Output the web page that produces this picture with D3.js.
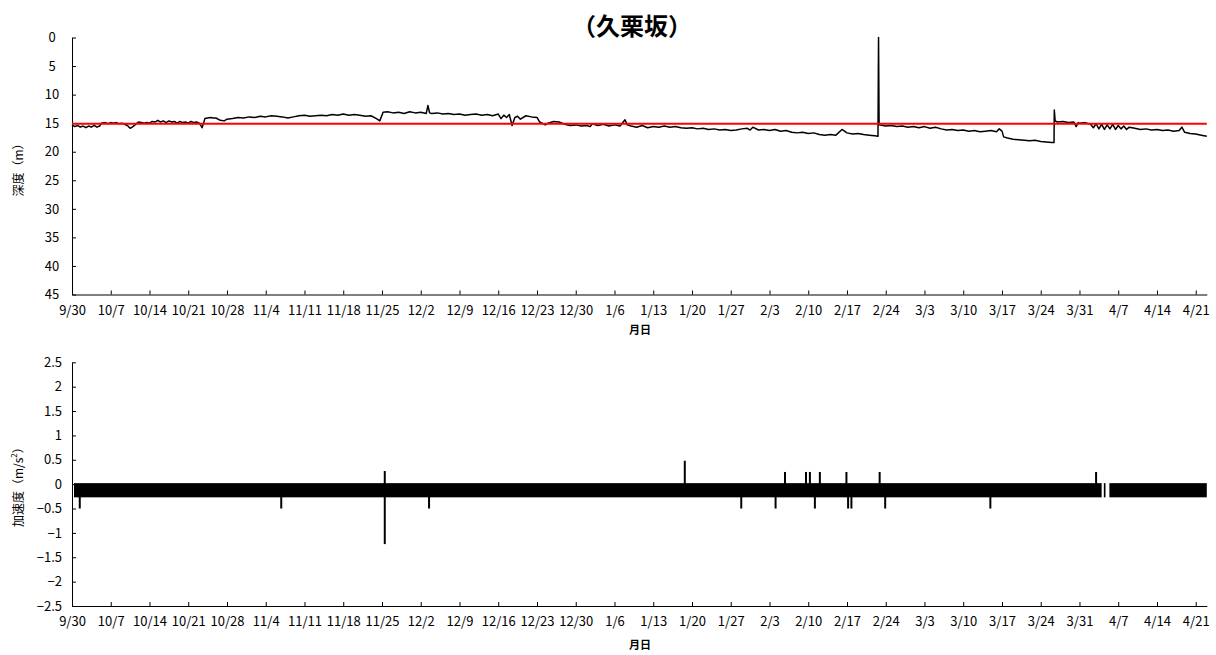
<!DOCTYPE html>
<html>
<head>
<meta charset="utf-8">
<script src="https://cdn.jsdelivr.net/npm/d3@7"></script>
<style>
  body { margin: 0; background: #fff; }
  svg text { font-family: "Noto Sans CJK JP", "Noto Sans", sans-serif; fill: #000; }
</style>
</head>
<body>
<div id="chart"></div>
<script>
'use strict';

// x positions are days since 9/30
var tickLabels = ['9/30', '10/7', '10/14', '10/21', '10/28', '11/4', '11/11', '11/18', '11/25', '12/2',
  '12/9', '12/16', '12/23', '12/30', '1/6', '1/13', '1/20', '1/27', '2/3', '2/10', '2/17', '2/24',
  '3/3', '3/10', '3/17', '3/24', '3/31', '4/7', '4/14', '4/21'];
var dayMax = 205;

var depthTicks = [0, 5, 10, 15, 20, 25, 30, 35, 40, 45];
var accelTicks = [2.5, 2, 1.5, 1, 0.5, 0, -0.5, -1, -1.5, -2, -2.5];
var referenceDepth = 15.1;

// [day, depth m]
var depth = [
  [0, 15.3], [0.5, 15.6], [1, 15.4], [1.5, 15.7], [2, 15.5], [2.5, 15.8], [3, 15.5], [3.5, 15.7],
  [4, 15.4], [4.5, 15.7], [5, 15.5], [5.3, 15.0], [6, 14.9], [6.5, 15.1], [7, 14.9], [7.5, 15.0],
  [8, 14.9], [8.5, 15.1], [9, 15.0], [9.5, 15.2], [10, 15.4], [10.5, 15.9], [11, 15.6], [11.5, 15.2],
  [12, 14.8], [12.5, 14.9], [13, 15.0], [13.5, 14.9], [14, 15.0], [14.5, 14.7], [15, 14.8], [15.5, 14.5],
  [16, 14.8], [16.5, 14.6], [17, 14.9], [17.5, 14.6], [18, 14.8], [18.5, 14.7], [19, 15.0], [19.5, 14.7],
  [20, 14.9], [20.5, 14.8], [21, 15.0], [21.5, 14.7], [22, 14.9], [22.5, 14.8], [23, 15.0], [23.5, 15.8],
  [23.8, 14.9], [24, 14.2], [25, 14.0], [25.5, 14.1], [26, 14.1], [26.8, 14.5], [27.5, 14.6], [28, 14.3],
  [29, 14.2], [30, 14.0], [31, 14.1], [32, 13.9], [33, 14.0], [34, 13.8], [35, 13.9], [36, 13.7],
  [37, 13.8], [38, 13.9], [39, 14.1], [40, 13.9], [41, 13.7], [42, 13.6], [43, 13.8], [44, 13.7],
  [45, 13.6], [46, 13.7], [47, 13.5], [48, 13.6], [49, 13.4], [50, 13.6], [51, 13.5], [52, 13.6],
  [53, 13.8], [54, 13.7], [55, 14.2], [55.6, 14.6], [56.2, 13.1], [57, 13.0], [58, 13.2], [59, 13.1],
  [60, 13.3], [61, 13.0], [62, 13.2], [63, 13.1], [64, 13.3], [64.3, 11.9], [64.6, 13.2], [65, 13.3],
  [66, 13.2], [67, 13.4], [68, 13.3], [69, 13.5], [70, 13.4], [71, 13.6], [72, 13.5], [73, 13.4],
  [74, 13.6], [75, 13.5], [76, 13.7], [77, 13.4], [77.5, 14.2], [78, 13.6], [78.5, 14.0], [79, 13.5],
  [79.5, 15.4], [80, 14.0], [80.5, 13.8], [81, 14.3], [82, 13.7], [83, 13.9], [84, 14.0], [84.5, 14.8],
  [85.5, 15.3], [86, 15.0], [87, 14.7], [88, 14.8], [89, 15.2], [90, 15.4], [91, 15.3], [92, 15.5],
  [93, 15.4], [93.6, 15.6], [94, 15.1], [95, 15.4], [96, 15.2], [97, 15.5], [98, 15.3], [99, 15.5],
  [99.9, 14.4], [100.3, 15.3], [101, 15.5], [102, 15.7], [103, 15.4], [104, 15.8], [105, 15.6], [106, 15.7],
  [107, 15.5], [108, 15.7], [109, 15.6], [110, 15.8], [111, 15.9], [112, 15.8], [113, 16.0], [114, 15.9],
  [115, 16.1], [116, 16.0], [117, 16.2], [118, 16.1], [119, 16.3], [120, 16.2], [121, 16.0], [122, 15.9],
  [122.5, 16.2], [123, 15.7], [124, 16.2], [125, 16.1], [126, 16.3], [127, 16.1], [128, 16.4], [129, 16.3],
  [130, 16.6], [131, 16.7], [132, 16.6], [133, 16.8], [134, 16.7], [135, 17.0], [136, 17.1], [137, 17.0],
  [138, 17.1], [139.1, 16.1], [140, 16.7], [141, 16.9], [142, 16.8], [143, 17.0], [144, 17.1], [145, 17.2],
  [145.6, 17.3], [145.7, 0.0], [145.8, 15.3], [146.5, 15.4], [147, 15.5], [148, 15.4], [149, 15.6], [150, 15.5],
  [151, 15.7], [152, 15.6], [153, 15.8], [154, 15.6], [155, 15.9], [156, 15.7], [157, 16.0], [158, 16.2],
  [159, 16.1], [160, 16.3], [161, 16.2], [162, 16.4], [163, 16.3], [164, 16.5], [165, 16.4], [166, 16.3],
  [167, 16.5], [167.5, 16.0], [168, 16.4], [168.3, 17.4], [169, 17.6], [170, 17.8], [171, 17.9], [172, 18.0],
  [173, 18.1], [174, 18.0], [175, 18.2], [176, 18.3], [177, 18.4], [177.4, 18.4], [177.45, 12.7], [177.6, 14.6],
  [178, 14.8], [179, 14.7], [180, 14.9], [181, 14.8], [181.4, 15.6], [181.8, 14.9], [182, 15.0], [183, 14.9],
  [184, 15.2], [184.5, 15.8], [185, 15.1], [185.5, 16.0], [186, 15.2], [186.5, 16.1], [187, 15.3], [187.5, 16.0],
  [188, 15.2], [188.5, 16.1], [189, 15.4], [189.5, 16.0], [190, 15.5], [190.5, 16.1], [191, 15.7], [192, 15.9],
  [193, 16.1], [194, 16.0], [195, 16.2], [196, 16.1], [197, 16.3], [198, 16.2], [199, 16.4], [200, 16.3],
  [200.5, 15.7], [201, 16.6], [202, 16.8], [203, 16.9], [204, 17.1], [205, 17.3]
];

// acceleration: dense oscillation between hi and lo, as [startDay, endDay, hi, lo]
var accelBands = [
  [0.36, 186.0, 0, -0.25],
  [186.4, 186.7, 0, -0.25],
  [187.4, 205, 0, -0.25]
];
// isolated peaks [day, m/s2]
var accelPeaks = [
  [1.4, -0.5], [37.8, -0.5], [56.5, 0.27], [56.5, -1.23], [64.5, -0.5], [110.7, 0.48],
  [120.9, -0.5], [127.1, -0.5], [128.8, 0.25], [132.6, 0.25], [133.3, 0.25], [134.2, -0.5],
  [135.1, 0.25], [139.9, 0.25], [140.2, -0.5], [140.8, -0.5], [145.9, 0.25], [146.9, -0.5],
  [165.9, -0.5], [185.0, 0.25]
];

var W = 1216, H = 655;
var left = 72, right = 1206.8;
var top1 = 37.5, bottom1 = 294.5;
var top2 = 362.3, bottom2 = 606;

var svg = d3.select('#chart').append('svg')
  .attr('width', W)
  .attr('height', H);

var x = d3.scaleLinear().domain([0, dayMax]).range([left, right]);
var y1 = d3.scaleLinear().domain([0, 45]).range([top1, bottom1]);
var y2 = d3.scaleLinear().domain([-2.5, 2.5]).range([bottom2, top2]);

var weekDays = tickLabels.map(function(d, i) { return i * 7; });

function drawXAxis(yPos) {
  var g = svg.append('g')
    .attr('transform', 'translate(0,' + yPos + ')')
    .call(d3.axisBottom(x)
      .tickValues(weekDays)
      .tickSizeInner(-4)
      .tickSizeOuter(0)
      .tickPadding(11)
      .tickFormat(function(d, i) { return tickLabels[i]; }));
  g.select('.domain').attr('stroke', '#000');
  g.selectAll('.tick line').attr('stroke', '#000');
  g.selectAll('text').attr('font-size', 13).style('font-family', '"Noto Sans CJK JP", sans-serif');
  return g;
}

function drawYAxis(scale, ticks, anchor, pad) {
  var g = svg.append('g')
    .attr('transform', 'translate(' + left + ',0)')
    .call(d3.axisLeft(scale)
      .tickValues(ticks)
      .tickSizeInner(-4)
      .tickSizeOuter(0)
      .tickPadding(pad)
      .tickFormat(d3.format('')));
  g.select('.domain').attr('stroke', '#000');
  g.selectAll('.tick line').attr('stroke', '#000');
  g.selectAll('text')
    .attr('font-size', 13)
    .attr('text-anchor', anchor)
    .style('font-family', '"Noto Sans CJK JP", sans-serif');
  return g;
}

// title
svg.append('text')
  .attr('x', 632)
  .attr('y', 35)
  .attr('text-anchor', 'middle')
  .attr('font-size', 24)
  .attr('font-weight', 'bold')
  .text('（久栗坂）');

// ---- depth chart ----
drawYAxis(y1, depthTicks, 'middle', 20);
drawXAxis(bottom1);

var line = d3.line()
  .x(function(d) { return x(d[0]); })
  .y(function(d) { return y1(d[1]); });

svg.append('path')
  .datum(depth)
  .attr('fill', 'none')
  .attr('stroke', '#000')
  .attr('stroke-width', 1.5)
  .attr('stroke-linejoin', 'round')
  .attr('d', line);

svg.append('line')
  .attr('x1', x(0))
  .attr('x2', x(dayMax))
  .attr('y1', y1(referenceDepth))
  .attr('y2', y1(referenceDepth))
  .attr('stroke', '#ff0000')
  .attr('stroke-width', 2);

svg.append('text')
  .attr('transform', 'translate(20,' + ((top1 + bottom1) / 2 + 1) + ') rotate(-90)')
  .attr('text-anchor', 'middle')
  .attr('dominant-baseline', 'middle')
  .attr('font-size', 12)
  .text('深度（m）');

svg.append('text')
  .attr('x', 640)
  .attr('y', 334)
  .attr('text-anchor', 'middle')
  .attr('font-size', 11)
  .attr('font-weight', 'bold')
  .text('月日');

// ---- acceleration chart ----
drawYAxis(y2, accelTicks, 'end', 10);
drawXAxis(bottom2);

svg.append('g').selectAll('rect')
  .data(accelBands)
  .enter().append('rect')
  .attr('x', function(d) { return x(d[0]); })
  .attr('width', function(d) { return x(d[1]) - x(d[0]); })
  .attr('y', function(d) { return y2(d[2]) - 1; })
  .attr('height', function(d) { return y2(d[3]) - y2(d[2]) + 2; })
  .attr('fill', '#000');

svg.append('g').selectAll('line')
  .data(accelPeaks)
  .enter().append('line')
  .attr('x1', function(d) { return x(d[0]); })
  .attr('x2', function(d) { return x(d[0]); })
  .attr('y1', y2(0))
  .attr('y2', function(d) { return y2(d[1]); })
  .attr('stroke', '#000')
  .attr('stroke-width', 2);

var accLabel = svg.append('text')
  .attr('transform', 'translate(20,' + ((top2 + bottom2) / 2) + ') rotate(-90)')
  .attr('text-anchor', 'middle')
  .attr('dominant-baseline', 'middle')
  .attr('font-size', 12);
accLabel.append('tspan').text('加速度（m/s');
accLabel.append('tspan').attr('font-size', 8).attr('dy', -5).text('2');
accLabel.append('tspan').attr('dy', 5).text('）');

svg.append('text')
  .attr('x', 640)
  .attr('y', 649)
  .attr('text-anchor', 'middle')
  .attr('font-size', 11)
  .attr('font-weight', 'bold')
  .text('月日');
</script>
</body>
</html>
